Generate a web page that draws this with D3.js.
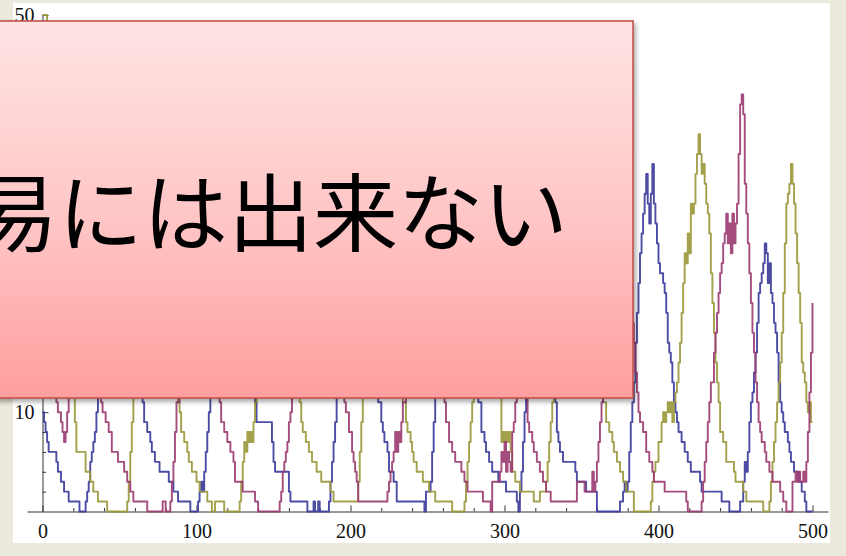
<!DOCTYPE html>
<html>
<head>
<meta charset="utf-8">
<script src="https://cdn.jsdelivr.net/npm/d3@7"></script>
<style>
  html, body { margin: 0; padding: 0; background: #ece9dd; }
  svg { display: block; }
</style>
</head>
<body>
<div class="chart"></div>
<script>
// Data: [t, jumlah] di setiap titik perubahan (step)
var blueSeries = [[0,10],[1,9],[2,8],[3,7],[4,6],[9,5],[10,4],[12,3],[14,2],[17,1],[24,0],[28,1],[29,2],[30,3],[31,5],[32,6],[33,7],[34,8],[35,10],[36,13],[38,17],[40,21],[43,25],[46,28],[50,30],[54,28],[58,24],[61,19],[63,15],[65,11],[66,9],[68,8],[70,7],[71,6],[73,5],[76,4],[82,3],[85,2],[88,1],[96,0],[101,1],[102,2],[103,3],[104,2],[105,4],[106,6],[107,8],[108,10],[109,12],[111,15],[114,20],[117,24],[121,27],[125,26],[129,22],[132,18],[135,14],[138,11],[139,9],[149,7],[150,5],[151,4],[160,2],[161,1],[172,0],[176,1],[177,0],[179,1],[180,0],[186,1],[187,3],[188,5],[189,7],[190,9],[191,12],[193,16],[196,21],[200,25],[204,27],[208,26],[211,22],[214,17],[216,14],[218,11],[220,9],[221,8],[222,7],[224,6],[225,4],[228,3],[230,1],[248,0],[249,2],[252,3],[253,6],[254,9],[255,12],[257,17],[260,22],[264,26],[268,28],[272,27],[276,24],[279,19],[281,15],[283,11],[285,8],[287,7],[288,6],[290,5],[292,4],[296,3],[301,2],[308,1],[309,0],[310,2],[311,4],[312,7],[313,10],[314,12],[316,16],[319,21],[323,25],[327,26],[330,22],[332,16],[333,11],[334,8],[335,7],[336,6],[338,5],[346,4],[347,3],[353,2],[360,0],[375,1],[377,2],[378,3],[379,2],[380,3],[381,6],[382,9],[383,11],[384,13],[385,17],[386,20],[387,23],[388,26],[389,28],[390,30],[391,32],[392,34],[393,31],[394,29],[395,32],[396,35],[397,31],[398,29],[399,27],[400,25],[401,24],[403,23],[404,22],[405,20],[406,17],[407,16],[408,15],[409,13],[410,11],[411,10],[412,9],[413,8],[415,7],[417,6],[419,5],[421,4],[427,3],[428,2],[441,1],[446,0],[453,1],[455,3],[456,5],[457,4],[458,6],[459,9],[460,11],[461,12],[462,14],[463,16],[464,19],[465,22],[466,23],[467,24],[468,25],[469,27],[470,26],[471,23],[472,25],[473,22],[474,21],[475,19],[476,18],[477,16],[478,13],[479,11],[480,10],[481,9],[482,8],[484,7],[485,6],[486,5],[488,4],[491,3],[493,2],[495,1],[496,0],[500,0]];

var magentaSeries = [[0,13],[2,12],[4,13],[6,12],[9,11],[10,10],[12,9],[13,8],[14,7],[15,8],[16,10],[17,12],[18,14],[20,17],[23,21],[27,24],[31,25],[34,22],[36,18],[37,14],[38,11],[39,10],[41,9],[43,8],[45,6],[49,5],[53,4],[55,3],[57,2],[59,1],[68,0],[78,1],[80,0],[83,1],[84,3],[85,5],[86,8],[87,11],[89,15],[92,20],[96,24],[100,26],[104,25],[108,22],[111,18],[113,14],[115,11],[116,9],[118,8],[120,7],[122,6],[124,5],[125,3],[130,2],[138,1],[140,0],[154,1],[155,2],[156,4],[157,5],[158,6],[159,7],[160,9],[161,10],[162,12],[164,16],[167,20],[171,24],[175,26],[180,25],[184,23],[188,20],[191,17],[194,14],[196,11],[197,10],[199,8],[201,6],[202,5],[203,4],[204,3],[205,1],[224,2],[225,3],[226,4],[227,5],[228,6],[229,8],[230,6],[231,8],[232,7],[233,9],[234,11],[236,15],[239,20],[243,24],[247,26],[251,25],[255,22],[258,18],[260,14],[261,11],[262,9],[264,7],[266,6],[268,5],[272,4],[274,3],[276,2],[286,1],[291,0],[292,3],[297,4],[298,6],[299,5],[300,7],[301,4],[302,6],[303,5],[304,4],[305,8],[306,9],[307,11],[308,14],[309,17],[310,19],[311,20],[312,19],[313,16],[314,12],[315,9],[316,8],[318,7],[319,6],[321,5],[323,4],[325,3],[327,2],[330,1],[347,3],[352,2],[357,4],[358,2],[359,3],[360,5],[361,7],[362,9],[363,11],[364,13],[366,17],[369,22],[372,26],[375,28],[378,27],[381,23],[383,19],[384,17],[385,14],[386,12],[387,10],[388,9],[390,8],[392,6],[394,5],[396,4],[397,3],[404,2],[418,1],[419,0],[428,1],[429,3],[430,5],[431,7],[432,9],[433,11],[434,13],[436,16],[437,18],[438,20],[439,22],[440,24],[441,25],[442,27],[443,28],[444,30],[445,27],[446,29],[447,26],[448,30],[449,27],[450,29],[451,31],[452,36],[453,41],[454,42],[455,40],[456,33],[457,30],[458,27],[459,24],[460,21],[461,18],[462,16],[463,13],[464,11],[465,9],[466,8],[467,7],[469,6],[470,5],[472,4],[474,3],[479,2],[481,1],[483,0],[487,3],[489,4],[490,3],[491,4],[492,3],[494,4],[495,3],[496,5],[497,8],[498,12],[499,16],[500,21]];

var oliveSeries = [[0,50],[3,49],[4,46],[5,43],[6,40],[7,37],[8,34],[9,31],[10,28],[11,25],[12,23],[13,21],[14,19],[15,17],[16,16],[17,15],[18,14],[19,13],[20,12],[21,9],[22,6],[28,4],[31,3],[33,2],[36,1],[42,0],[55,1],[56,3],[57,6],[58,9],[59,12],[61,16],[63,20],[66,24],[70,27],[74,28],[78,26],[81,22],[84,17],[86,13],[88,11],[89,10],[90,8],[92,7],[94,6],[95,5],[97,4],[100,3],[102,2],[107,1],[110,0],[112,1],[118,0],[128,1],[129,3],[130,5],[131,7],[132,6],[133,8],[134,7],[135,8],[136,7],[137,9],[138,11],[139,13],[141,17],[144,21],[148,25],[152,27],[156,26],[160,22],[163,18],[165,14],[167,11],[168,9],[169,8],[171,7],[173,6],[175,5],[178,4],[181,3],[187,2],[189,1],[205,3],[206,6],[207,9],[208,12],[210,16],[213,21],[217,25],[221,27],[225,26],[228,23],[231,19],[233,15],[234,11],[236,9],[237,8],[239,7],[240,6],[241,5],[243,4],[247,3],[251,2],[255,1],[266,0],[274,1],[275,3],[276,5],[277,7],[278,9],[279,11],[280,13],[282,17],[285,22],[289,25],[292,24],[295,19],[297,12],[298,7],[299,8],[300,7],[301,8],[302,7],[303,8],[304,6],[305,4],[307,3],[310,2],[319,1],[323,2],[327,3],[328,5],[329,7],[330,9],[331,11],[332,13],[335,18],[339,23],[344,27],[349,29],[354,28],[358,24],[361,19],[363,14],[364,11],[366,9],[368,8],[370,7],[371,6],[373,5],[375,4],[377,3],[379,2],[384,0],[395,1],[396,3],[397,4],[398,5],[400,7],[402,9],[403,10],[404,9],[405,10],[406,11],[407,10],[408,11],[409,9],[410,11],[411,12],[412,13],[413,15],[414,17],[415,20],[416,23],[417,26],[418,25],[419,28],[420,26],[421,31],[422,30],[423,31],[424,34],[425,36],[426,38],[427,36],[428,34],[429,35],[430,33],[431,31],[432,30],[433,28],[434,24],[435,21],[436,18],[437,15],[438,13],[439,11],[440,8],[442,7],[444,5],[449,4],[450,3],[455,2],[457,1],[468,0],[472,1],[473,3],[474,5],[475,7],[476,9],[477,11],[478,13],[479,15],[480,18],[481,22],[482,27],[483,31],[484,32],[485,33],[486,35],[487,33],[488,31],[489,28],[490,25],[491,22],[492,19],[493,15],[494,14],[495,13],[496,11],[497,10],[498,11],[499,9],[500,9]];

var xTickLabels = [0, 100, 200, 300, 400, 500];
var yMajorTicks = [10, 20, 30, 40, 50];
var yTickLabels = [10, 50];   // label lain tertutup kotak
var overlayText = "易には出来ない";

var width = 846;
var height = 556;

var svg = d3.select(".chart")
  .append("svg")
  .attr("width", width)
  .attr("height", height);

var defs = svg.append("defs");

// Gradasi merah muda untuk kotak teks
var grad = defs.append("linearGradient")
  .attr("id", "boxFill")
  .attr("x1", 0).attr("y1", 0).attr("x2", 0).attr("y2", 1);
grad.append("stop").attr("offset", "0%").attr("stop-color", "#ffe4e4");
grad.append("stop").attr("offset", "55%").attr("stop-color", "#ffc4c4");
grad.append("stop").attr("offset", "100%").attr("stop-color", "#ff9e9e");

var shadow = defs.append("filter")
  .attr("id", "shadow")
  .attr("x", "-10%").attr("y", "-10%")
  .attr("width", "120%").attr("height", "130%");
shadow.append("feDropShadow")
  .attr("dx", 2).attr("dy", 3)
  .attr("stdDeviation", 2.5)
  .attr("flood-color", "#000")
  .attr("flood-opacity", 0.35);

// Panel putih untuk plot
svg.append("rect")
  .attr("x", 13).attr("y", 3)
  .attr("width", 817).attr("height", 540)
  .attr("fill", "#ffffff");

var x = d3.scaleLinear()
  .domain([-10, 510])
  .range([27.1, 827.9]);

var y = d3.scaleLinear()
  .domain([0, 50])
  .range([511.5, 15]);

// Sumbu x (tick mengarah ke dalam)
svg.append("g")
  .attr("transform", "translate(0," + y(0) + ")")
  .call(d3.axisBottom(x)
    .tickValues(xTickLabels)
    .tickSizeInner(-6)
    .tickSizeOuter(0)
    .tickPadding(12));

svg.append("g")
  .attr("transform", "translate(0," + y(0) + ")")
  .call(d3.axisBottom(x)
    .tickValues(d3.range(20, 500, 20).filter(function(d) { return d % 100 !== 0; }))
    .tickSizeInner(-3.5)
    .tickSizeOuter(0)
    .tickFormat(""))
  .select(".domain").remove();

// Sumbu y
svg.append("g")
  .attr("transform", "translate(" + x(0) + ",0)")
  .call(d3.axisLeft(y)
    .tickValues(yMajorTicks)
    .tickSizeInner(-6)
    .tickSizeOuter(0)
    .tickPadding(8)
    .tickFormat(function(d) { return yTickLabels.indexOf(d) >= 0 ? d : ""; }));

svg.append("g")
  .attr("transform", "translate(" + x(0) + ",0)")
  .call(d3.axisLeft(y)
    .tickValues(d3.range(2, 50, 2).filter(function(d) { return d % 10 !== 0; }))
    .tickSizeInner(-3.5)
    .tickSizeOuter(0)
    .tickFormat(""))
  .select(".domain").remove();

svg.selectAll(".domain, .tick line")
  .attr("stroke", "#333")
  .attr("stroke-width", 1);

svg.selectAll(".tick text")
  .attr("fill", "#111")
  .style("font-family", "'Liberation Serif', 'DejaVu Serif', serif")
  .style("font-size", "20px");

// Garis tiga spesies
var line = d3.line()
  .x(function(d) { return x(d[0]); })
  .y(function(d) { return y(d[1]); })
  .curve(d3.curveStepAfter);

var series = [
  { name: "blue", values: blueSeries, color: "#3d3d9c" },
  { name: "olive", values: oliveSeries, color: "#9c993d" },
  { name: "magenta", values: magentaSeries, color: "#9c3d72" }
];

svg.selectAll(".series")
  .data(series)
  .enter().append("path")
  .attr("class", "series")
  .attr("d", function(d) { return line(d.values); })
  .attr("fill", "none")
  .attr("stroke", function(d) { return d.color; })
  .attr("stroke-width", 1.9)
  .attr("stroke-linejoin", "round")
  .attr("stroke-opacity", 0.92);

// Kotak merah muda di atas plot
svg.append("rect")
  .attr("x", -10).attr("y", 21)
  .attr("width", 643).attr("height", 377)
  .attr("fill", "url(#boxFill)")
  .attr("stroke", "#c4504c")
  .attr("stroke-width", 1.6)
  .attr("filter", "url(#shadow)");

svg.append("text")
  .attr("x", -27)
  .attr("y", 245)
  .attr("fill", "#000")
  .style("font-family", "'Noto Sans CJK JP', 'Noto Sans CJK SC', sans-serif")
  .style("font-size", "85px")
  .text(overlayText);
</script>
</body>
</html>
